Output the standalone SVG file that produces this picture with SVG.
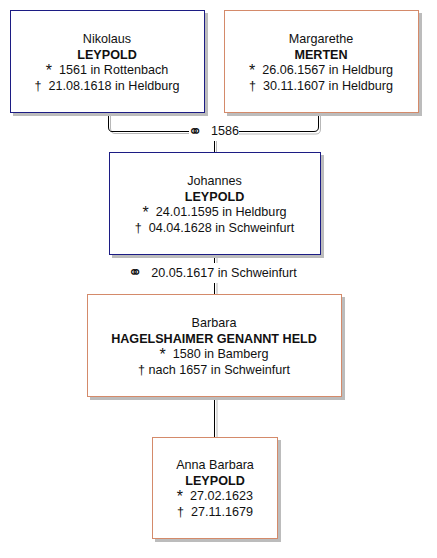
<svg xmlns="http://www.w3.org/2000/svg" width="437" height="558" viewBox="0 0 437 558">
<style>
.box{fill:#fff;stroke-width:1}
.m{stroke:#1c1c84}
.f{stroke:#d48a6a}
.sh{fill:#bcbcbc}
.t{font-family:"Liberation Sans",Arial,sans-serif;font-size:12.6px;fill:#111;text-anchor:middle;white-space:pre}
.b{font-weight:bold}
.a{font-size:16px}
.ln{fill:none;stroke:#000;stroke-width:1}
.lns{fill:none;stroke:#b8b8b8;stroke-width:1}
.ring{font-family:"DejaVu Sans",sans-serif;font-size:17px;fill:#111;text-anchor:middle}
</style>
<rect width="437" height="558" fill="#fff"/>
<g id="connectors">
<path class="lns" d="M110.5,112 V128 Q110.5,133.5 115,133.5 H189"/>
<path class="ln" d="M108.5,112 V127 Q108.5,131.5 112,131.5 H189"/>
<path class="lns" d="M239,134 H316 Q320.5,134 320.5,129 V112"/>
<path class="ln" d="M239,131.5 H314 Q318.5,131.5 318.5,127 V112"/>
<text class="ring" x="195" y="137">⚭</text>
<text class="t" x="225" y="135">1586</text>
<path class="lns" d="M216.5,141 V152"/>
<path class="ln" d="M214.5,141 V152"/>
<path class="lns" d="M217,254 V263 M217,283 V294"/>
<path class="ln" d="M214.5,254 V263 M214.5,283 V294"/>
<text class="ring" x="135" y="278">⚭</text>
<text class="t" x="224" y="277">20.05.1617 in Schweinfurt</text>
<path class="lns" d="M217,396 V437"/>
<path class="ln" d="M214.5,396 V437"/>
</g>
<g id="n1">
<rect class="sh" x="13" y="13" width="195" height="103"/>
<rect class="box m" x="10.5" y="10.5" width="194" height="102"/>
<text class="t" x="107" y="43">Nikolaus</text>
<text class="t b" x="107" y="58.5">LEYPOLD</text>
<text class="t" x="107" y="74"><tspan class="a" dy="2">*</tspan><tspan dy="-2">  1561 in Rottenbach</tspan></text>
<text class="t" x="107" y="89.5">†  21.08.1618 in Heldburg</text>
</g>
<g id="n2">
<rect class="sh" x="227" y="13" width="195" height="103"/>
<rect class="box f" x="224.5" y="10.5" width="194" height="102"/>
<text class="t" x="321" y="43">Margarethe</text>
<text class="t b" x="321" y="58.5">MERTEN</text>
<text class="t" x="321" y="74"><tspan class="a" dy="2">*</tspan><tspan dy="-2">  26.06.1567 in Heldburg</tspan></text>
<text class="t" x="321" y="89.5">†  30.11.1607 in Heldburg</text>
</g>
<g id="n3">
<rect class="sh" x="112" y="155" width="212" height="103"/>
<rect class="box m" x="109.5" y="152.5" width="211" height="102"/>
<text class="t" x="214.5" y="185">Johannes</text>
<text class="t b" x="214.5" y="200.5">LEYPOLD</text>
<text class="t" x="214.5" y="216"><tspan class="a" dy="2">*</tspan><tspan dy="-2">  24.01.1595 in Heldburg</tspan></text>
<text class="t" x="214.5" y="231.5">†  04.04.1628 in Schweinfurt</text>
</g>
<g id="n4">
<rect class="sh" x="90" y="297" width="255" height="103"/>
<rect class="box f" x="87.5" y="294.5" width="254" height="102"/>
<text class="t" x="214" y="327">Barbara</text>
<text class="t b" x="214" y="342.5">HAGELSHAIMER GENANNT HELD</text>
<text class="t" x="214" y="358"><tspan class="a" dy="2">*</tspan><tspan dy="-2">  1580 in Bamberg</tspan></text>
<text class="t" x="214" y="373.5">† nach 1657 in Schweinfurt</text>
</g>
<g id="n5">
<rect class="sh" x="155" y="440" width="126" height="102"/>
<rect class="box f" x="152.5" y="437.5" width="125" height="101"/>
<text class="t" x="215" y="469">Anna Barbara</text>
<text class="t b" x="215" y="484.5">LEYPOLD</text>
<text class="t" x="215" y="500"><tspan class="a" dy="2">*</tspan><tspan dy="-2">  27.02.1623</tspan></text>
<text class="t" x="215" y="515.5">†  27.11.1679</text>
</g>
</svg>
